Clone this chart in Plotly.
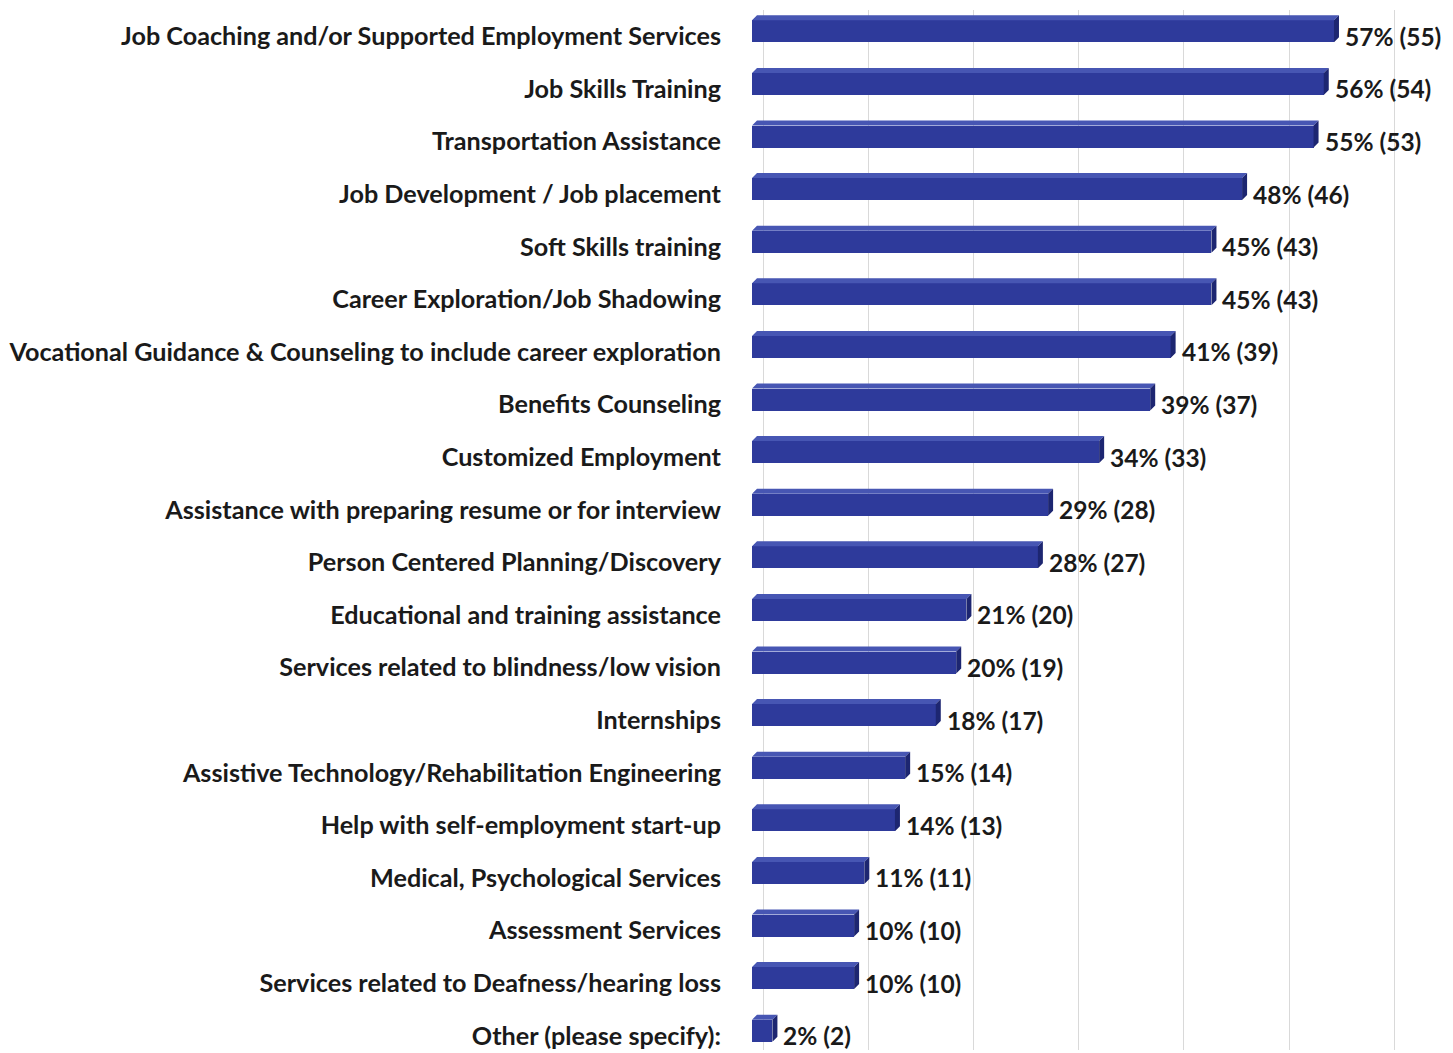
import plotly.graph_objects as go

# Survey results: share of respondents (percent) and number of respondents
categories = [
    "Job Coaching and/or Supported Employment Services",
    "Job Skills Training",
    "Transportation Assistance",
    "Job Development / Job placement",
    "Soft Skills training",
    "Career Exploration/Job Shadowing",
    "Vocational Guidance & Counseling to include career exploration",
    "Benefits Counseling",
    "Customized Employment",
    "Assistance with preparing resume or for interview",
    "Person Centered Planning/Discovery",
    "Educational and training assistance",
    "Services related to blindness/low vision",
    "Internships",
    "Assistive Technology/Rehabilitation Engineering",
    "Help with self-employment start-up",
    "Medical, Psychological Services",
    "Assessment Services",
    "Services related to Deafness/hearing loss",
    "Other (please specify):",
]
percents = [57, 56, 55, 48, 45, 45, 41, 39, 34, 29, 28, 21, 20, 18, 15, 14, 11, 10, 10, 2]
counts = [55, 54, 53, 46, 43, 43, 39, 37, 33, 28, 27, 20, 19, 17, 14, 13, 11, 10, 10, 2]
grid_ticks = [0, 10, 20, 30, 40, 50, 60]

W, H = 1453, 1053
M_L, M_R, M_T, M_B = 752, 0, 10, 3
FRONT_PX_PER_PCT = 10.21       # front-face scale
BACK_PX_PER_PCT = 10.52        # back-wall (gridline) scale
BACK_ZERO_OFFSET_PX = 11       # back wall sits slightly right of the front faces
ROW_PX = 52.6

FRONT = "#2E3A9B"
TOP = "#4756B3"
SIDE = "#1D2671"
TEXT = "#1a1a1a"
FONT = "Lato"

plot_w = W - M_L - M_R
x_range = [0, plot_w / FRONT_PX_PER_PCT]
x2_range = [-BACK_ZERO_OFFSET_PX / BACK_PX_PER_PCT,
            (plot_w - BACK_ZERO_OFFSET_PX) / BACK_PX_PER_PCT]
y_range = [-0.5 + (H - M_T - M_B) / ROW_PX, -0.5]

rows = list(range(len(categories)))
bar_shift = -5 / ROW_PX          # front face sits a little above the row centre
bar_width = 22 / ROW_PX
depth_x = 5 / FRONT_PX_PER_PCT   # oblique depth of the 3-D bars
depth_y = 5 / ROW_PX

fig = go.Figure()

# front faces
fig.add_trace(go.Bar(
    x=percents, y=[r + bar_shift for r in rows], orientation="h",
    width=bar_width, marker=dict(color=FRONT, line=dict(width=0)),
    hoverinfo="skip", showlegend=False,
))

# top and side faces of each bar
top_x, top_y, side_x, side_y = [], [], [], []
for r, v in zip(rows, percents):
    y_top = r + bar_shift - bar_width / 2
    y_bot = r + bar_shift + bar_width / 2
    top_x += [0, v, v + depth_x, depth_x, 0, None]
    top_y += [y_top, y_top, y_top - depth_y, y_top - depth_y, y_top, None]
    side_x += [v, v + depth_x, v + depth_x, v, v, None]
    side_y += [y_top, y_top - depth_y, y_bot - depth_y, y_bot, y_top, None]

fig.add_trace(go.Scatter(
    x=top_x, y=top_y, mode="lines", fill="toself", fillcolor=TOP,
    line=dict(width=0, color=TOP), hoverinfo="skip", showlegend=False,
))
fig.add_trace(go.Scatter(
    x=side_x, y=side_y, mode="lines", fill="toself", fillcolor=SIDE,
    line=dict(width=0, color=SIDE), hoverinfo="skip", showlegend=False,
))

# carrier for the back-wall gridline axis
fig.add_trace(go.Scatter(
    x=[grid_ticks[0]], y=[rows[0]], xaxis="x2", mode="none",
    hoverinfo="skip", showlegend=False,
))

for r, v, c in zip(rows, percents, counts):
    fig.add_annotation(
        x=v, y=r, xref="x", yref="y", xanchor="left", yanchor="middle",
        xshift=9, showarrow=False, text=f"{v}% ({c})",
        font=dict(family=FONT, size=24.5, color=TEXT, weight="bold"),
    )

fig.update_layout(
    width=W, height=H,
    margin=dict(l=M_L, r=M_R, t=M_T, b=M_B, pad=0),
    paper_bgcolor="white", plot_bgcolor="white",
    bargap=0, showlegend=False,
    xaxis=dict(range=x_range, showgrid=False, zeroline=False,
               showticklabels=False, ticks="", showline=False, fixedrange=True),
    xaxis2=dict(range=x2_range, overlaying="x", anchor="y", side="bottom",
                tickvals=grid_ticks, showgrid=True, gridcolor="#d9d9d9",
                gridwidth=1.3, zeroline=False, showticklabels=False,
                ticks="", showline=False),
    yaxis=dict(range=y_range, tickvals=rows, ticktext=categories,
               showgrid=False, zeroline=False, showline=False, ticks="",
               ticklabelstandoff=30, automargin=False,
               tickfont=dict(family=FONT, size=25.2, color=TEXT, weight="bold")),
)

fig.write_html("out.html")
